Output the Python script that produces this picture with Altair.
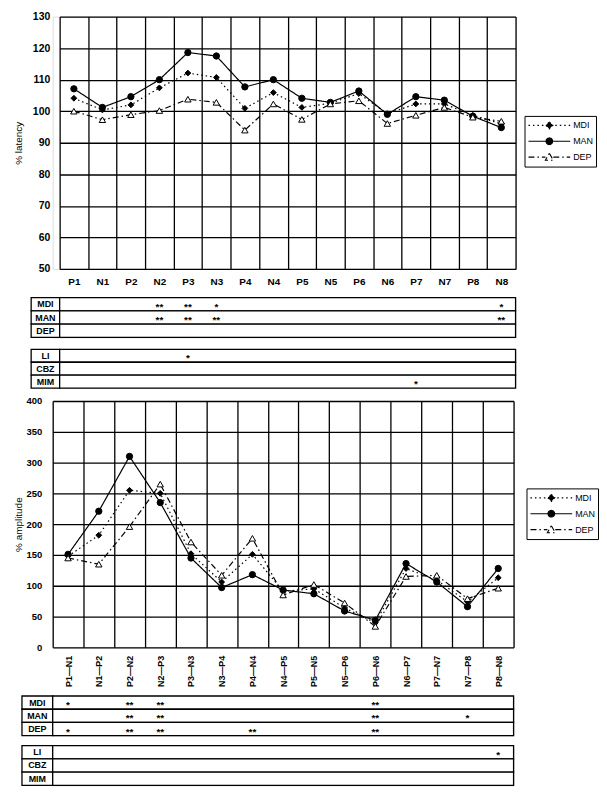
import altair as alt
import pandas as pd

FONT = "Liberation Sans"
NARROW = "Liberation Sans Narrow, Liberation Sans, Arial, sans-serif"

# ---------------- data ----------------
lat_cats = ["P1", "N1", "P2", "N2", "P3", "N3", "P4", "N4",
            "P5", "N5", "P6", "N6", "P7", "N7", "P8", "N8"]
lat_mdi = [104.1, 100.4, 102.0, 107.4, 112.1, 110.7, 100.9, 105.9,
           101.2, 102.5, 105.6, 99.2, 102.3, 102.3, 98.7, 96.0]
lat_man = [107.1, 101.2, 104.6, 110.0, 118.6, 117.5, 107.7, 110.0,
           104.1, 102.8, 106.4, 99.0, 104.6, 103.5, 98.4, 94.8]
lat_dep = [100.0, 97.3, 98.9, 100.2, 103.8, 102.8, 94.0, 102.3,
           97.4, 102.3, 103.3, 96.1, 98.7, 101.2, 98.1, 96.8]

amp_cats = ["P1—N1", "N1—P2", "P2—N2", "N2—P3", "P3—N3", "N3—P4", "P4—N4", "N4—P5",
            "P5—N5", "N5—P6", "P6—N6", "N6—P7", "P7—N7", "N7—P8", "P8—N8"]
amp_mdi = [148, 182, 255, 250, 152, 106, 151, 91, 95, 64, 40, 128, 109, 74, 113]
amp_man = [151, 221, 310, 235, 145, 97, 118, 93, 87, 59, 44, 136, 106, 66, 128]
amp_dep = [145, 135, 196, 265, 171, 117, 177, 85, 102, 72, 34, 115, 117, 79, 96]

series = ["MDI", "MAN", "DEP"]
drugs = ["LI", "CBZ", "MIM"]

# significance marks: (row, column, stars)
lat_sig_group = [("MDI", "N2", "**"), ("MDI", "P3", "**"), ("MDI", "N3", "*"), ("MDI", "N8", "*"),
                 ("MAN", "N2", "**"), ("MAN", "P3", "**"), ("MAN", "N3", "**"), ("MAN", "N8", "**")]
lat_sig_drug = [("LI", "P3", "*"), ("MIM", "P7", "*")]
amp_sig_group = [("MDI", "P1—N1", "*"), ("MDI", "P2—N2", "**"), ("MDI", "N2—P3", "**"), ("MDI", "P6—N6", "**"),
                 ("MAN", "P2—N2", "**"), ("MAN", "N2—P3", "**"), ("MAN", "P6—N6", "**"), ("MAN", "N7—P8", "*"),
                 ("DEP", "P1—N1", "*"), ("DEP", "P2—N2", "**"), ("DEP", "N2—P3", "**"),
                 ("DEP", "P4—N4", "**"), ("DEP", "P6—N6", "**")]
amp_sig_drug = [("LI", "P8—N8", "*")]

# ---------------- styles ----------------
dash_patterns = [[1.5, 3], [1, 0], [6, 3, 1.5, 3]]
fills = ["black", "black", "white"]
point_shapes = ["diamond", "circle", "triangle-up"]
point_sizes = [34, 40, 42]
# legend key glyphs: line segment with the marker in the middle
glyphs = [
    "M-1,0H1M0,-0.17L0.17,0L0,0.17L-0.17,0Z",
    "M-1,0H1M0.16,0A0.16,0.16,0,1,1,-0.16,0A0.16,0.16,0,1,1,0.16,0Z",
    "M-1,0H-0.19M0.19,0H1M0,-0.19L0.19,0.15L-0.19,0.15Z",
]
GRID_W = 1.3


def main_chart(cats, mdi, man, dep, ydom, ystep, ytitle, w, h, shift,
               lab_angle, lab_size, lab_pad, ylab_size, ylab_pad, ytitle_pad, leg_x, leg_y):
    df = pd.DataFrame({
        "cat": cats * 3,
        "val": mdi + man + dep,
        "series": [s for s in series for _ in cats],
    })
    x = alt.X("cat:N",
              scale=alt.Scale(type="band", domain=cats, paddingInner=0, paddingOuter=0,
                              range=[shift, shift + w]),
              axis=alt.Axis(title=None, tickBand="extent", grid=True, gridColor="black",
                            gridWidth=GRID_W, gridOpacity=1, ticks=False, domain=False,
                            labelAngle=lab_angle, labelFont=FONT, labelFontSize=lab_size,
                            labelFontWeight="bold", labelColor="black", labelPadding=lab_pad))
    y = alt.Y("val:Q",
              scale=alt.Scale(domain=ydom, nice=False, zero=False),
              axis=alt.Axis(title=ytitle, values=list(range(ydom[0], ydom[1] + 1, ystep)),
                            grid=True, gridColor="black", gridWidth=GRID_W, gridOpacity=1,
                            ticks=False, domain=False, labelFont=FONT, labelFontSize=ylab_size,
                            labelFontWeight="bold", labelColor="black", labelPadding=ylab_pad,
                            titleFont=FONT, titleFontSize=10, titleFontWeight="normal",
                            titleColor="black", titlePadding=ytitle_pad))
    layers = []
    for s, dsh in zip(series, dash_patterns):
        layers.append(
            alt.Chart(df).transform_filter(alt.datum.series == s)
            .mark_line(color="black", strokeWidth=1.2, strokeDash=dsh)
            .encode(x=x, y=y))
    for s, shp, f, sz in zip(series, point_shapes, fills, point_sizes):
        layers.append(
            alt.Chart(df).transform_filter(alt.datum.series == s)
            .mark_point(shape=shp, filled=True, fill=f, stroke="black", strokeWidth=1,
                        size=sz, opacity=1)
            .encode(x=x, y=y))
    leg = alt.Legend(orient="none", legendX=leg_x, legendY=leg_y, title=None,
                     symbolSize=1764, clipHeight=13, rowPadding=3, padding=3,
                     titlePadding=0, labelFont=FONT, labelFontSize=9, labelColor="black",
                     labelOffset=2, strokeColor="black", fillColor="white",
                     symbolStrokeWidth=1.1)
    key = alt.Chart(df).transform_filter("false").mark_point(
        color="black", filled=False, opacity=1).encode(
        x=x, y=y,
        shape=alt.Shape("series:N", scale=alt.Scale(domain=series, range=glyphs), legend=leg),
        strokeDash=alt.StrokeDash("series:N", scale=alt.Scale(domain=series, range=dash_patterns),
                                  legend=leg),
        stroke=alt.Stroke("series:N", scale=alt.Scale(domain=series, range=["black"] * 3),
                          legend=leg),
        fill=alt.Fill("series:N", scale=alt.Scale(domain=series, range=fills), legend=leg))
    layers.append(key)
    return alt.layer(*layers).properties(width=w + shift, height=h)


def table(cats, rows, sig, w, h, shift):
    n = len(cats)
    frame = pd.DataFrame({
        "row": rows * 2,
        "x0": [-1] * len(rows) + [0] * len(rows),
        "x1": [0] * len(rows) + [n] * len(rows),
    })
    xs = alt.Scale(domain=[0, n], nice=False, zero=False, range=[shift, shift + w])
    ys = alt.Scale(type="band", domain=rows, paddingInner=0, paddingOuter=0)
    cells = alt.Chart(frame).mark_rect(fill="white", stroke="black", strokeWidth=GRID_W).encode(
        x=alt.X("x0:Q", scale=xs, axis=None), x2="x1:Q",
        y=alt.Y("row:N", scale=ys, axis=None))
    lab_df = pd.DataFrame({"row": rows, "xm": [-0.5] * len(rows)})
    labels = alt.Chart(lab_df).mark_text(font=NARROW, fontSize=9, fontWeight="bold",
                                         color="black").encode(
        x=alt.X("xm:Q", scale=xs, axis=None), y=alt.Y("row:N", scale=ys, axis=None),
        text="row:N")
    star_df = pd.DataFrame({
        "row": [r for r, _, _ in sig],
        "xm": [cats.index(c) + 0.5 for _, c, _ in sig],
        "txt": [t for _, _, t in sig],
    })
    stars = alt.Chart(star_df).mark_text(font=FONT, fontSize=10, fontWeight="bold",
                                         color="black", dy=2.5).encode(
        x=alt.X("xm:Q", scale=xs, axis=None), y=alt.Y("row:N", scale=ys, axis=None),
        text="txt:N")
    return alt.layer(cells, labels, stars).properties(width=w + shift, height=h)


TOP_W, BOT_W = 459, 464
TOP_SHIFT, BOT_SHIFT = 7, 0

top_chart = main_chart(lat_cats, lat_mdi, lat_man, lat_dep, [50, 130], 10, "% latency",
                       TOP_W, 254, TOP_SHIFT, 0, 10, 8, 10.5, 3, 9, 475, 100)
t1 = table(lat_cats, series, lat_sig_group, TOP_W, 40, TOP_SHIFT)
t2 = table(lat_cats, drugs, lat_sig_drug, TOP_W, 39, TOP_SHIFT)

bot_chart = main_chart(amp_cats, amp_mdi, amp_man, amp_dep, [0, 400], 50, "% amplitude",
                       BOT_W, 248, BOT_SHIFT, -90, 9, 8, 9.5, 11, 3, 477, 88)
t3 = table(amp_cats, series, amp_sig_group, BOT_W, 40, BOT_SHIFT)
t4 = table(amp_cats, drugs, amp_sig_drug, BOT_W, 40, BOT_SHIFT)

ind = dict(shape="independent", strokeDash="independent", fill="independent",
           stroke="independent")

top_half = alt.vconcat(top_chart, t1, t2, spacing=8).resolve_scale(**ind).resolve_legend(**ind)
bottom_half = alt.vconcat(bot_chart, t3, t4, spacing=6).resolve_scale(**ind).resolve_legend(**ind)

chart = alt.vconcat(top_half, bottom_half, spacing=5).resolve_scale(**ind).resolve_legend(
    **ind).properties(
    padding={"left": 4, "top": 0, "right": 0, "bottom": 0}
).configure_view(stroke=None).configure(background="white")

chart.save("out.html", embed_options={"renderer": "svg", "actions": False})
